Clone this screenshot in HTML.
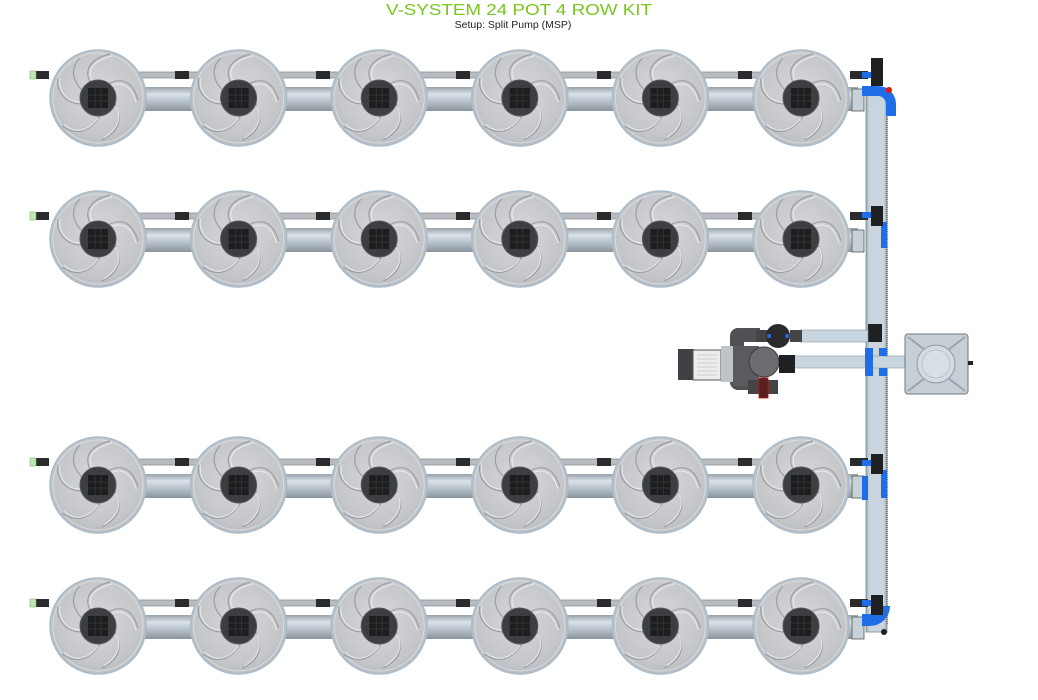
<!DOCTYPE html>
<html><head><meta charset="utf-8"><style>
html,body{margin:0;padding:0;background:#fff;width:1038px;height:700px;overflow:hidden}
svg{display:block}
</style></head><body>
<svg width="1038" height="700" viewBox="0 0 1038 700" xmlns="http://www.w3.org/2000/svg">
<defs>
<radialGradient id="pg" cx="50%" cy="45%" r="55%">
<stop offset="0" stop-color="#d6d8da"/><stop offset="0.8" stop-color="#c4c6c9"/><stop offset="1" stop-color="#b9bcc0"/>
</radialGradient>
<linearGradient id="tube" x1="0" y1="0" x2="0" y2="1">
<stop offset="0" stop-color="#98a2aa"/><stop offset="0.3" stop-color="#dbe2e8"/><stop offset="0.6" stop-color="#b8c2ca"/><stop offset="1" stop-color="#8a949c"/>
</linearGradient>
<linearGradient id="vt" x1="0" y1="0" x2="1" y2="0">
<stop offset="0" stop-color="#9aa4ac"/><stop offset="0.15" stop-color="#c9d5de"/><stop offset="0.85" stop-color="#c9d5de"/><stop offset="1" stop-color="#9aa4ac"/>
</linearGradient>
<g id="pot">
<circle r="48" fill="url(#pg)" stroke="#a9bccb" stroke-width="1.5"/>
<circle r="45" fill="none" stroke="#d8dde2" stroke-width="1"/>
<g fill="none" stroke="#8f9399" stroke-width="1.2" opacity="0.8">
<path d="M-8,-16 C-15,-30 -5,-40 12,-44"/>
<path d="M10,-14 C25,-22 35,-15 40,2"/>
<path d="M17,6 C26,22 20,34 4,42"/>
<path d="M2,18 C-8,34 -22,38 -36,28"/>
<path d="M-16,6 C-32,6 -42,-6 -40,-20"/>
<path d="M-16,-8 C-28,-20 -26,-32 -18,-40"/>
</g>
<g fill="none" stroke="#eef0f2" stroke-width="1" opacity="0.9">
<path d="M-6,-18 C-12,-30 -2,-38 14,-42"/>
<path d="M12,-12 C26,-18 34,-10 38,4"/>
<path d="M18,8 C25,22 18,32 6,40"/>
<path d="M0,20 C-10,34 -24,36 -34,26"/>
<path d="M-18,4 C-32,4 -40,-8 -38,-20"/>
</g>
<circle r="18" fill="#3c3e41" stroke="#55585c"/>
<rect x="-10" y="-10" width="20" height="20" fill="#1c1d1f"/>
<path d="M-10,-3h20M-10,3h20M-3,-10v20M3,-10v20" stroke="#333" stroke-width="1"/>
</g>
<g id="row">
<rect x="60" y="-26" width="755" height="6" fill="#b8bcc0" stroke="#8a8e92" stroke-width="0.8"/>
<rect x="98" y="-11" width="760" height="24" fill="url(#tube)"/>
<g fill="#2a2b2d">
<rect x="35" y="-27" width="14" height="8"/><rect x="175" y="-27" width="14" height="8"/><rect x="316" y="-27" width="14" height="8"/><rect x="456" y="-27" width="14" height="8"/><rect x="597" y="-27" width="14" height="8"/><rect x="738" y="-27" width="14" height="8"/>
</g>
<rect x="30" y="-27" width="6" height="8" fill="#bfe6b0" stroke="#8ab47a" stroke-width="0.6"/>
<use href="#pot" x="98"/><use href="#pot" x="238.6"/><use href="#pot" x="379.2"/><use href="#pot" x="519.8"/><use href="#pot" x="660.4"/><use href="#pot" x="801"/>
<rect x="850" y="-27" width="18" height="8" fill="#2a2b2d"/>
<rect x="852" y="-9" width="12" height="22" fill="#c9d1d8" stroke="#555" stroke-width="0.8"/>
</g>
</defs>

<text x="519" y="15" text-anchor="middle" font-family="Liberation Sans, sans-serif" font-size="16" fill="#7ac51f" textLength="266" lengthAdjust="spacingAndGlyphs">V-SYSTEM 24 POT 4 ROW KIT</text>
<text x="513" y="28" text-anchor="middle" font-family="Liberation Sans, sans-serif" font-size="10.5" fill="#222">Setup: Split Pump (MSP)</text>

<rect x="866" y="88" width="21" height="544" fill="url(#vt)" stroke="#7e8a94" stroke-width="0.8"/>
<line x1="887" y1="95" x2="887" y2="625" stroke="#888" stroke-width="2" stroke-dasharray="1 1"/>

<use href="#row" y="98"/>
<use href="#row" y="239"/>
<use href="#row" y="485"/>
<use href="#row" y="626"/>

<g fill="#1f6ee8">
<path d="M862,86 h16 a18,18 0 0 1 18,18 v12 h-10 v-12 a8,8 0 0 0 -8,-8 h-16z"/>
<rect x="862" y="72" width="10" height="6"/>
<rect x="881" y="222" width="6" height="26"/>
<rect x="862" y="212" width="10" height="6"/>
<rect x="881" y="470" width="6" height="28"/>
<rect x="862" y="460" width="10" height="6"/>
<path d="M862,476 h6 v24 h-6z"/>
<path d="M862,614 h8 a8,8 0 0 0 8,-8 h12 a20,20 0 0 1 -20,20 h-8z"/>
<rect x="862" y="600" width="10" height="6"/>
</g>
<g fill="#1f2022">
<rect x="871" y="58" width="12" height="28"/>
<rect x="871" y="206" width="12" height="20"/>
<rect x="871" y="454" width="12" height="20"/>
<rect x="871" y="595" width="12" height="20"/>
<rect x="868" y="324" width="14" height="18"/>
<circle cx="884" cy="632" r="3"/>
</g>
<circle cx="889" cy="90" r="3" fill="#e01515"/>

<rect x="800" y="330" width="68" height="12" fill="#c9d5de" stroke="#8a98a4" stroke-width="0.6"/>
<rect x="793" y="356" width="112" height="12" fill="#c9d5de" stroke="#8a98a4" stroke-width="0.6"/>
<rect x="865" y="348" width="8" height="28" fill="#1f6ee8"/>
<rect x="879" y="348" width="8" height="8" fill="#1f6ee8"/>
<rect x="879" y="368" width="8" height="8" fill="#1f6ee8"/>

<rect x="905" y="334" width="63" height="60" rx="3" fill="#c6ced6" stroke="#6f7a84" stroke-width="1"/>
<path d="M908,337 L925,350 M965,337 L948,350 M908,391 L925,378 M965,391 L948,378" stroke="#9aa4ae" stroke-width="2"/>
<circle cx="936" cy="364" r="19" fill="#d3dbe2" stroke="#8f9aa4"/>
<circle cx="936" cy="364" r="14" fill="#d7dee5" stroke="#a8b2bb" stroke-width="0.6"/>
<rect x="968" y="361" width="5" height="4" fill="#222"/>

<!-- pump assembly -->
<path d="M730,346 v-10 a8,8 0 0 1 8,-8 h22 v14 h-16 v36 h14 v12 h-20 a8,8 0 0 1 -8,-8z" fill="#4f5154"/>
<rect x="678" y="349" width="16" height="31" fill="#3f4144"/>
<rect x="693" y="350" width="28" height="30" fill="#ececec" stroke="#555"/>
<path d="M697,355h20M697,359h20M697,363h20M697,367h20M697,371h20M697,375h20" stroke="#c4c4c4" stroke-width="0.8"/>
<rect x="721" y="346" width="12" height="36" fill="#c0c4c8"/>
<rect x="733" y="346" width="26" height="40" fill="#5a5b5e"/>
<rect x="756" y="330" width="12" height="12" fill="#444"/>
<circle cx="778" cy="336" r="12" fill="#2a2b2d"/>
<circle cx="769" cy="336" r="2" fill="#1f6ee8"/><circle cx="787" cy="336" r="2" fill="#1f6ee8"/>
<rect x="790" y="330" width="12" height="12" fill="#444"/>
<circle cx="764" cy="362" r="15" fill="#6a6c6f" stroke="#3a3b3d"/>
<rect x="779" y="355" width="16" height="18" fill="#1f2022"/>
<rect x="748" y="380" width="30" height="14" fill="#444"/>
<rect x="759" y="378" width="9" height="20" fill="#5a2020" stroke="#c01010" stroke-width="0.8"/>
</svg>
</body></html>
